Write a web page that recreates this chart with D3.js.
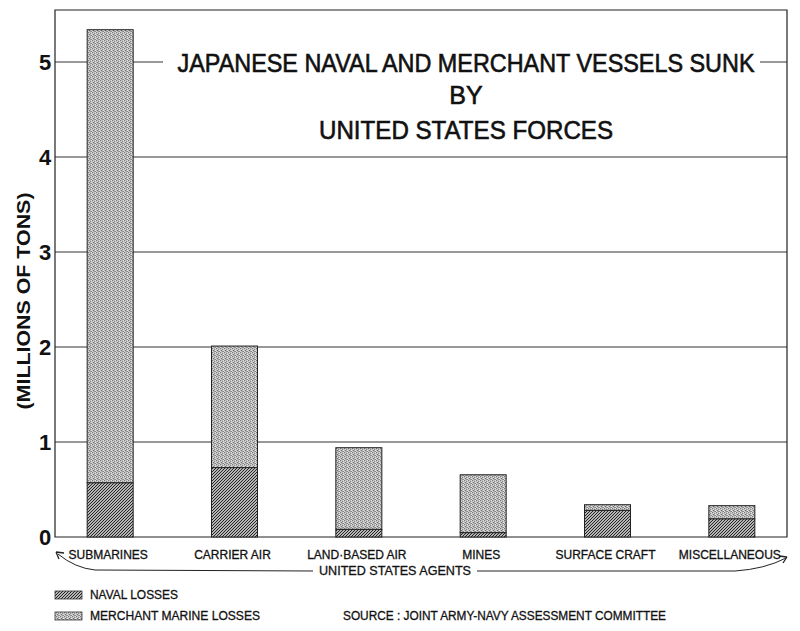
<!DOCTYPE html>
<html><head><meta charset="utf-8">
<script src="https://cdn.jsdelivr.net/npm/d3@7"></script>
<style>html,body{margin:0;padding:0;background:#fff;}svg{display:block;}</style>
</head><body>
<svg id="chart" width="800" height="631"></svg>
<script>
const categories = ["SUBMARINES","CARRIER AIR","LAND·BASED AIR","MINES","SURFACE CRAFT","MISCELLANEOUS"];
const navalLosses = [0.57, 0.73, 0.08, 0.045, 0.28, 0.19];
const merchantLosses = [4.77, 1.28, 0.86, 0.61, 0.06, 0.14];
const yTicks = [0,1,2,3,4,5];
const titleLines = ["JAPANESE NAVAL AND MERCHANT VESSELS SUNK","BY","UNITED STATES FORCES"];

const svg = d3.select("#chart");
const font = "'Liberation Sans', Arial, sans-serif";
const frame = {left:55, right:787, top:10, bottom:537};

const y = d3.scaleLinear().domain([0,5]).range([537,62]);
const x = d3.scaleBand().domain(categories).range([48,794]).paddingInner(0.63).paddingOuter(0.315);

// patterns
const defs = svg.append("defs");
const hatch = defs.append("pattern").attr("id","hatch").attr("patternUnits","userSpaceOnUse").attr("width",3).attr("height",3);
hatch.append("rect").attr("width",3).attr("height",3).attr("fill","#f4f4f4");
hatch.append("path").attr("d","M-1,1 L1,-1 M0,3 L3,0 M2,4 L4,2").attr("stroke","#1a1a1a").attr("stroke-width",1.1);

const stip = defs.append("pattern").attr("id","stipple").attr("patternUnits","userSpaceOnUse").attr("width",4).attr("height",4);
stip.append("rect").attr("width",4).attr("height",4).attr("fill","#bcbcbc");
[[0,0,"#7a7a7a"],[2,1,"#8a8a8a"],[1,2,"#6d6d6d"],[3,3,"#858585"],[3,0,"#e2e2e2"],[1,1,"#dadada"],[0,3,"#d6d6d6"],[2,3,"#959595"],[3,2,"#e6e6e6"]].forEach(p=>{
  stip.append("rect").attr("x",p[0]).attr("y",p[1]).attr("width",1).attr("height",1).attr("fill",p[2]);
});

// grid lines
const g = svg.append("g");
yTicks.filter(t=>t>0 && t<5).forEach(t=>{
  g.append("line").attr("x1",frame.left).attr("x2",frame.right).attr("y1",y(t)).attr("y2",y(t))
   .attr("stroke","#333").attr("stroke-width",1);
});
// grid line 5 interrupted by title
g.append("line").attr("x1",frame.left).attr("x2",163).attr("y1",y(5)).attr("y2",y(5)).attr("stroke","#333");
g.append("line").attr("x1",760).attr("x2",frame.right).attr("y1",y(5)).attr("y2",y(5)).attr("stroke","#333");

// frame
g.append("path").attr("d",`M${frame.left},${frame.bottom} L${frame.left},${frame.top} L${frame.right},${frame.top} L${frame.right},${frame.bottom} Z`)
  .attr("fill","none").attr("stroke","#222").attr("stroke-width",1.2);

// bars
const data = categories.map((c,i)=>({c, naval:navalLosses[i], merchant:merchantLosses[i]}));
const bars = svg.append("g");
data.forEach(d=>{
  const x0 = x(d.c), w = x.bandwidth();
  bars.append("rect").attr("x",x0).attr("width",w)
    .attr("y",y(d.naval+d.merchant)).attr("height",y(d.naval)-y(d.naval+d.merchant))
    .attr("fill","url(#stipple)").attr("stroke","#222").attr("stroke-width",1);
  bars.append("rect").attr("x",x0).attr("width",w)
    .attr("y",y(d.naval)).attr("height",y(0)-y(d.naval))
    .attr("fill","url(#hatch)").attr("stroke","#222").attr("stroke-width",1);
});

// y tick labels
svg.append("g").selectAll("text").data(yTicks).join("text")
  .attr("x",45).attr("y",d=>y(d)+8).attr("text-anchor","middle")
  .attr("font-family",font).attr("font-weight","bold").attr("font-size",22).attr("fill","#111")
  .text(d=>d);

// y label
svg.append("text").attr("transform","translate(30,301) rotate(-90)").attr("text-anchor","middle")
  .attr("font-family",font).attr("font-weight","bold").attr("font-size",18).attr("fill","#111")
  .attr("textLength",217).attr("lengthAdjust","spacingAndGlyphs")
  .text("(MILLIONS OF TONS)");

// title
const tl = [{t:titleLines[0],y:72,len:577},{t:titleLines[1],y:104,len:null},{t:titleLines[2],y:139,len:294}];
tl.forEach(l=>{
  const t = svg.append("text").attr("x",466).attr("y",l.y).attr("text-anchor","middle")
   .attr("font-family",font).attr("font-size",25).attr("fill","#111")
   .attr("stroke","#111").attr("stroke-width",0.6).text(l.t);
  if(l.len) t.attr("textLength",l.len).attr("lengthAdjust","spacingAndGlyphs");
});

// category labels
svg.append("g").selectAll("text").data(categories).join("text")
  .attr("x",d=>x(d)+x.bandwidth()/2-2).attr("y",559).attr("text-anchor","middle")
  .attr("font-family",font).attr("font-size",12).attr("fill","#111")
  .attr("stroke","#111").attr("stroke-width",0.3).text(d=>d);

// United States Agents with arrows
svg.append("text").attr("x",395).attr("y",575).attr("text-anchor","middle")
  .attr("font-family",font).attr("font-size",12.5).attr("fill","#111").attr("stroke","#111").attr("stroke-width",0.3)
  .attr("textLength",152).attr("lengthAdjust","spacingAndGlyphs").text("UNITED STATES AGENTS");
svg.append("path").attr("d","M313,571 L95,570 Q75,568 58,554").attr("fill","none").attr("stroke","#222").attr("stroke-width",1);
svg.append("path").attr("d","M56,552 L64,553 M56,552 L59,559").attr("fill","none").attr("stroke","#222").attr("stroke-width",1.3);
svg.append("path").attr("d","M477,571 L735,571 Q765,569 786,558").attr("fill","none").attr("stroke","#222").attr("stroke-width",1);
svg.append("path").attr("d","M787,557 L779,556 M787,557 L783,563").attr("fill","none").attr("stroke","#222").attr("stroke-width",1.3);

// legend
const legend = [{fill:"url(#hatch)",label:"NAVAL LOSSES",y:591,len:88},{fill:"url(#stipple)",label:"MERCHANT MARINE LOSSES",y:612,len:170}];
legend.forEach(l=>{
  svg.append("rect").attr("x",55).attr("y",l.y).attr("width",27).attr("height",8).attr("fill",l.fill).attr("stroke","#333").attr("stroke-width",0.8);
  svg.append("text").attr("x",90).attr("y",l.y+8).attr("font-family",font).attr("font-size",12.5).attr("fill","#111")
    .attr("stroke","#111").attr("stroke-width",0.3)
    .attr("textLength",l.len).attr("lengthAdjust","spacingAndGlyphs").text(l.label);
});
svg.append("text").attr("x",343).attr("y",620).attr("font-family",font).attr("font-size",12.5).attr("fill","#111")
  .attr("stroke","#111").attr("stroke-width",0.3)
  .attr("textLength",323).attr("lengthAdjust","spacingAndGlyphs")
  .text("SOURCE : JOINT ARMY-NAVY ASSESSMENT COMMITTEE");
</script>
</body></html>
